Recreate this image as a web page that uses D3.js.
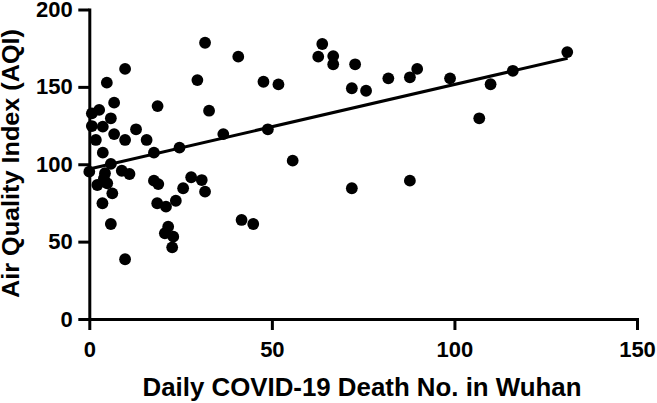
<!DOCTYPE html>
<html><head><meta charset="utf-8">
<script src="https://cdn.jsdelivr.net/npm/d3@7"></script>
<style>
html,body{margin:0;padding:0;background:#fff;}
svg{display:block;}
text{font-family:"Liberation Sans",Arial,Helvetica,sans-serif;font-weight:bold;fill:#000;}
</style></head>
<body>
<svg id="chart" width="657" height="403"></svg>
<script>
// Daily COVID-19 deaths in Wuhan (x) vs AQI (y)
const deaths = [31.7,40.8,9.8,4.8,29.6,6.8,18.7,32.8,2.7,0.7,5.9,0.7,3.7,6.8,12.8,1.8,9.8,15.7,36.7,3.7,17.7,24.7,5.9,0,4.3,8.9,11.0,2.2,4.9,6.3,3.6,4.0,17.7,18.9,27.9,30.8,31.7,25.7,23.7,18.6,21.0,5.9,21.6,20.7,23.0,22.7,9.8,41.7,44.9,63.8,62.7,66.8,66.8,72.8,71.9,75.8,81.9,87.8,89.8,98.8,109.9,116.0,130.9,106.8,48.9,55.7,71.9,87.8,47.7,51.8];
const aqi    = [178.5,169.5,161.6,152.7,154.4,139.8,137.6,134.6,135.1,132.9,129.7,124.7,124.3,119.5,122.6,115.7,115.7,115.7,119.5,107.5,107.5,110.7,100.2,95.2,94.2,95.8,93.7,86.6,87.7,81.2,74.8,90.9,89.4,87.2,91.6,89.8,82.3,84.5,76.4,74.8,72.6,61.4,59.6,55.4,53.2,46.3,38.6,64.0,61.4,177.7,169.5,169.9,164.6,164.6,149.1,147.5,155.5,156.2,161.6,155.5,151.7,160.4,172.5,129.7,122.6,102.3,84.5,89.4,153.3,151.6];
// Fitted regression line endpoints
const fitX = [0, 131];
const fitY = [96.9, 168.5];
const xTicks = [0, 50, 100, 150];
const yTicks = [0, 50, 100, 150, 200];
const xTitle = "Daily COVID-19 Death No. in Wuhan";
const yTitle = "Air Quality Index (AQI)";

const svg = d3.select("#chart");
const x = d3.scaleLinear().domain([0,150]).range([89.3,637]);
const y = d3.scaleLinear().domain([0,200]).range([319,9.5]);

const xAxis = svg.append("g").attr("transform","translate(0,319)")
  .call(d3.axisBottom(x).tickValues(xTicks).tickSize(11).tickSizeOuter(0).tickPadding(11));
const yAxis = svg.append("g").attr("transform","translate(89.3,0)")
  .call(d3.axisLeft(y).tickValues(yTicks).tickSize(11).tickSizeOuter(0).tickPadding(5.5));
[xAxis,yAxis].forEach(g=>{
  g.select(".domain").attr("stroke","#000").attr("stroke-width",3).attr("stroke-linecap","square");
  g.selectAll(".tick line").attr("stroke","#000").attr("stroke-width",3);
  g.selectAll(".tick text").attr("font-size",22).attr("font-family",null).attr("fill","#000");
});

// regression line
svg.append("path")
  .datum(fitX.map((d,i)=>[d,fitY[i]]))
  .attr("d", d3.line().x(d=>x(d[0])).y(d=>y(d[1])))
  .attr("fill","none").attr("stroke","#000").attr("stroke-width",3);

// points
svg.append("g").selectAll("circle")
  .data(deaths.map((d,i)=>[d,aqi[i]]))
  .join("circle")
  .attr("cx",d=>x(d[0])).attr("cy",d=>y(d[1])).attr("r",5.9).attr("fill","#000");

// titles
svg.append("text").attr("x",362).attr("y",396).attr("text-anchor","middle")
  .attr("font-size",26).attr("textLength",439).attr("lengthAdjust","spacingAndGlyphs").text(xTitle);
svg.append("text").attr("transform","translate(19,163.5) rotate(-90)").attr("text-anchor","middle")
  .attr("font-size",23).attr("textLength",269).attr("lengthAdjust","spacingAndGlyphs").text(yTitle);
</script>
</body></html>
